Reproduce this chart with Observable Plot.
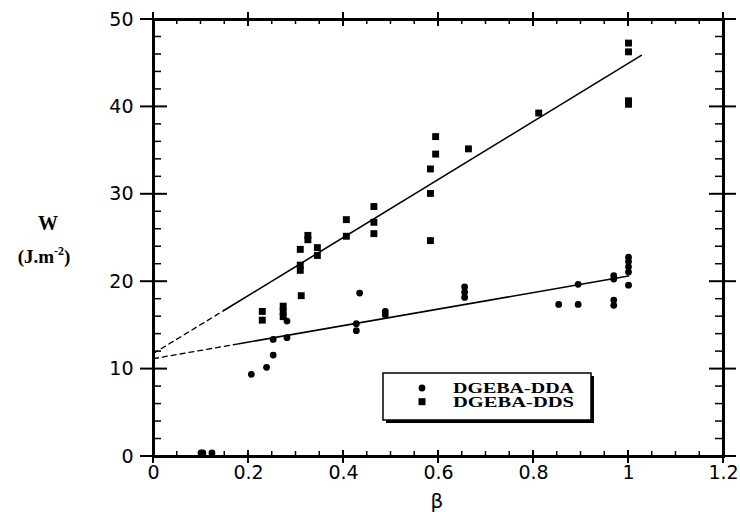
<!DOCTYPE html>
<html><head><meta charset="utf-8">
<script src="https://cdn.jsdelivr.net/npm/d3@7"></script>
<script src="https://cdn.jsdelivr.net/npm/@observablehq/plot@0.6"></script>
<style>body{margin:0;background:#fff}</style>
</head><body><div id="chart"></div>
<script>
// DGEBA-DDA (circles)
const ddaBeta = [0.100, 0.104, 0.123, 0.206, 0.238, 0.252, 0.252, 0.281, 0.281, 0.427, 0.427, 0.434, 0.488, 0.488,
                 0.655, 0.655, 0.655, 0.853, 0.894, 0.894, 0.969, 0.969, 0.969, 0.969, 1.0, 1.0, 1.0, 1.0, 1.0];
const ddaW    = [0.4, 0.4, 0.4, 9.4, 10.2, 11.6, 13.4, 15.5, 13.6, 15.2, 14.4, 18.7, 16.6, 16.2,
                 19.4, 18.8, 18.2, 17.4, 17.4, 19.7, 20.7, 20.3, 17.9, 17.3, 22.8, 22.3, 21.7, 21.1, 19.6];
// DGEBA-DDS (squares)
const ddsBeta = [0.229, 0.229, 0.273, 0.273, 0.273, 0.309, 0.309, 0.309, 0.311, 0.325, 0.325, 0.345, 0.345,
                 0.406, 0.406, 0.464, 0.464, 0.464, 0.583, 0.583, 0.583, 0.594, 0.594, 0.663, 0.811,
                 1.0, 1.0, 1.0, 1.0];
const ddsW    = [16.6, 15.6, 17.2, 16.6, 16.0, 23.7, 21.9, 21.3, 18.4, 25.3, 24.8, 23.9, 23.0,
                 27.1, 25.2, 28.6, 26.8, 25.5, 32.9, 30.1, 24.7, 36.6, 34.6, 35.2, 39.3,
                 47.3, 46.3, 40.7, 40.3];
// fitted lines (dashed extrapolation, then solid)
const ddsFitBeta = [0, 0.148, 1.027];
const ddsFitW    = [11.8, 16.7, 45.9];
const ddaFitBeta = [0, 0.18, 1.0];
const ddaFitW    = [11.2, 12.9, 20.65];
// ticks
const xTicks = [0, 0.2, 0.4, 0.6, 0.8, 1.0, 1.2];
const xTickLabels = ["0", "0.2", "0.4", "0.6", "0.8", "1", "1.2"];
const yTicks = [0, 10, 20, 30, 40, 50];
const yTickLabels = ["0", "10", "20", "30", "40", "50"];
const seriesNames = ["DGEBA-DDA", "DGEBA-DDS"];

const dda = ddaBeta.map((b, i) => ({beta: b, w: ddaW[i]}));
const dds = ddsBeta.map((b, i) => ({beta: b, w: ddsW[i]}));
const seg = (bs, ws, a, b) => bs.slice(a, b + 1).map((v, i) => ({beta: v, w: ws[a + i]}));

const sansFont = "DejaVu Sans, sans-serif";
const plot = Plot.plot({
  width: 740, height: 512,
  marginLeft: 153, marginRight: 17, marginTop: 19, marginBottom: 56,
  x: {domain: [0, 1.2]},
  y: {domain: [0, 50]},
  style: {background: "#fff", color: "#000", fontFamily: sansFont},
  marks: [
    Plot.line(seg(ddsFitBeta, ddsFitW, 0, 1), {x: "beta", y: "w", stroke: "#000", strokeWidth: 1.3, strokeDasharray: "5,4"}),
    Plot.line(seg(ddsFitBeta, ddsFitW, 1, 2), {x: "beta", y: "w", stroke: "#000", strokeWidth: 1.6}),
    Plot.line(seg(ddaFitBeta, ddaFitW, 0, 1), {x: "beta", y: "w", stroke: "#000", strokeWidth: 1.3, strokeDasharray: "5,4"}),
    Plot.line(seg(ddaFitBeta, ddaFitW, 1, 2), {x: "beta", y: "w", stroke: "#000", strokeWidth: 1.6}),
    Plot.dot(dda, {x: "beta", y: "w", r: 3.4, fill: "#000", symbol: "circle"}),
    Plot.dot(dds, {x: "beta", y: "w", r: 3.9, fill: "#000", symbol: "square"}),
    Plot.frame({stroke: "#000", strokeWidth: 3}),
    Plot.axisX({ticks: xTicks, tickFormat: (d, i) => xTickLabels[i], tickSize: 0, tickPadding: 9,
                fontSize: 19, fontFamily: sansFont, label: null}),
    Plot.axisY({ticks: yTicks, tickFormat: (d, i) => yTickLabels[i], tickSize: 0, tickPadding: 20,
                fontSize: 19, fontFamily: sansFont, label: null})
  ]
});
document.getElementById("chart").append(plot);

const svg = d3.select(plot);
const xs = plot.scale("x"), ys = plot.scale("y");
const X0 = xs.apply(0), X1 = xs.apply(1.2), Y0 = ys.apply(0), Y1 = ys.apply(50);
const g = svg.append("g").attr("stroke", "#000");
// major ticks (crossing the frame)
xTicks.forEach(v => {
  const px = xs.apply(v);
  g.append("line").attr("x1", px).attr("x2", px).attr("y1", Y0 - 6).attr("y2", Y0 + 7).attr("stroke-width", 2);
  g.append("line").attr("x1", px).attr("x2", px).attr("y1", Y1 - 7).attr("y2", Y1 + 7).attr("stroke-width", 2);
});
yTicks.forEach(v => {
  const py = ys.apply(v);
  g.append("line").attr("y1", py).attr("y2", py).attr("x1", X0 - 13).attr("x2", X0 + 14).attr("stroke-width", 2);
  g.append("line").attr("y1", py).attr("y2", py).attr("x1", X1 - 14).attr("x2", X1 + 13).attr("stroke-width", 2);
});
// minor ticks (inward)
d3.range(0, 24).map(i => i * 0.05).filter(v => Math.abs(v / 0.2 - Math.round(v / 0.2)) > 1e-6).forEach(v => {
  const px = xs.apply(v);
  g.append("line").attr("x1", px).attr("x2", px).attr("y1", Y0).attr("y2", Y0 - 5).attr("stroke-width", 1.5);
  g.append("line").attr("x1", px).attr("x2", px).attr("y1", Y1).attr("y2", Y1 + 5).attr("stroke-width", 1.5);
});
d3.range(0, 25).map(i => i * 2).filter(v => v % 10 !== 0).forEach(v => {
  const py = ys.apply(v);
  g.append("line").attr("y1", py).attr("y2", py).attr("x1", X0).attr("x2", X0 + 8).attr("stroke-width", 1.5);
  g.append("line").attr("y1", py).attr("y2", py).attr("x1", X1).attr("x2", X1 - 8).attr("stroke-width", 1.5);
});

// axis titles
const serif = "Liberation Serif, Times New Roman, serif";
svg.append("text").attr("x", 48).attr("y", 230).attr("text-anchor", "middle")
  .attr("font-family", serif).attr("font-weight", "bold").attr("font-size", 20).text("W");
const unit = svg.append("text").attr("x", 44).attr("y", 263).attr("text-anchor", "middle")
  .attr("font-family", serif).attr("font-weight", "bold").attr("font-size", 19);
unit.append("tspan").text("(J.m");
unit.append("tspan").attr("dy", -8).attr("font-size", 12).text("-2");
unit.append("tspan").attr("dy", 8).text(")");
svg.append("text").attr("x", 437).attr("y", 508).attr("text-anchor", "middle")
  .attr("font-family", sansFont).attr("font-size", 20).text("β");

// legend box
const lg = svg.append("g");
lg.append("rect").attr("x", 386).attr("y", 376).attr("width", 208).attr("height", 47).attr("fill", "#000");
lg.append("rect").attr("x", 383).attr("y", 373).attr("width", 208).attr("height", 47)
  .attr("fill", "#fff").attr("stroke", "#000").attr("stroke-width", 1.5);
lg.append("circle").attr("cx", 422).attr("cy", 388).attr("r", 3.4).attr("fill", "#000");
lg.append("rect").attr("x", 418.5).attr("y", 398.2).attr("width", 7).attr("height", 7).attr("fill", "#000");
[392.5, 407].forEach((by, i) => {
  lg.append("text").attr("x", 453).attr("y", by).attr("text-anchor", "start")
    .attr("font-family", serif).attr("font-weight", "bold")
    .attr("font-size", 15).attr("textLength", 121).attr("lengthAdjust", "spacingAndGlyphs").text(seriesNames[i]);
});
</script>
</body></html>
